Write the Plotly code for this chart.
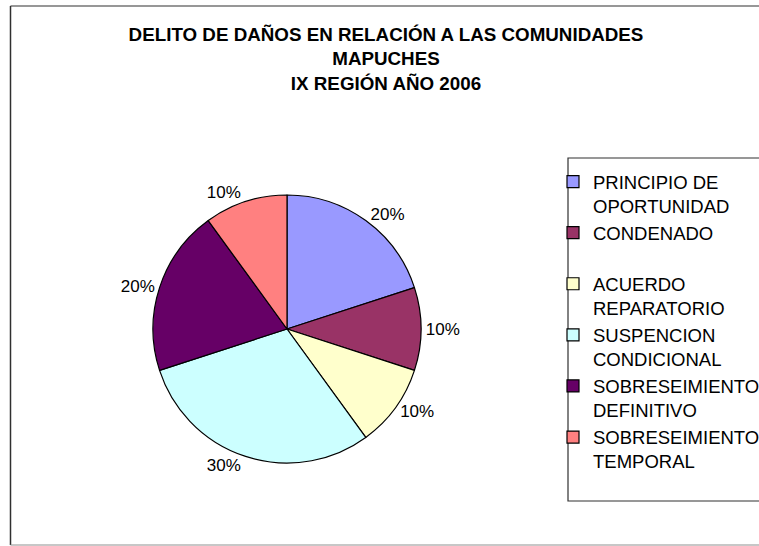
import plotly.graph_objects as go

W, H = 759, 546

title_lines = ["DELITO DE DAÑOS EN RELACIÓN A LAS COMUNIDADES", "MAPUCHES", "IX REGIÓN AÑO 2006"]
categories = [
    "PRINCIPIO DE<br>OPORTUNIDAD",
    "CONDENADO<br>\u00a0",
    "ACUERDO<br>REPARATORIO",
    "SUSPENCION<br>CONDICIONAL",
    "SOBRESEIMIENTO<br>DEFINITIVO",
    "SOBRESEIMIENTO<br>TEMPORAL",
]
values = [2, 1, 1, 3, 2, 1]
colors = ["#9999FF", "#993366", "#FFFFCC", "#CCFFFF", "#660066", "#FF8080"]

FONT = "Liberation Sans, Arial, sans-serif"

def px_x(x):
    return x / W

def px_y(y):
    return 1 - y / H

# pie geometry (pixels)
cx, cy, r = 287, 329, 134

fig = go.Figure(
    go.Pie(
        labels=categories,
        values=values,
        sort=False,
        direction="clockwise",
        rotation=0,
        marker=dict(colors=colors, line=dict(color="black", width=1.2)),
        texttemplate="%{percent:.0%}",
        textposition="outside",
        outsidetextfont=dict(family=FONT, size=17, color="black"),
        domain=dict(x=[px_x(cx - r), px_x(cx + r)], y=[px_y(cy + r), px_y(cy - r)]),
        hoverinfo="label+percent",
    )
)

shapes = [
    # outer chart frame (right side lies beyond the visible area)
    dict(type="line", xref="paper", yref="paper", x0=px_x(10.5), x1=px_x(10.5), y0=px_y(6), y1=px_y(545),
         line=dict(color="#303030", width=1.5)),
    dict(type="line", xref="paper", yref="paper", x0=px_x(10.5), x1=px_x(900), y0=px_y(6), y1=px_y(6),
         line=dict(color="#303030", width=1.2)),
    dict(type="line", xref="paper", yref="paper", x0=px_x(10.5), x1=px_x(900), y0=px_y(545), y1=px_y(545),
         line=dict(color="#909090", width=1.2)),
    # legend box (top, left, bottom edges)
    dict(type="path", xref="paper", yref="paper",
         path="M %f,%f L %f,%f L %f,%f L %f,%f" % (
             px_x(900), px_y(158), px_x(568), px_y(158), px_x(568), px_y(501), px_x(900), px_y(501)),
         line=dict(color="#303030", width=1.2)),
]

fig.update_layout(
    width=W,
    height=H,
    margin=dict(l=0, r=0, t=0, b=0, autoexpand=False),
    paper_bgcolor="white",
    plot_bgcolor="white",
    font=dict(family=FONT, color="black"),
    title=dict(
        text="<b>" + "<br>".join(title_lines) + "</b>",
        x=px_x(386),
        xanchor="center",
        y=px_y(41),
        yanchor="top",
        font=dict(family=FONT, size=18.8, color="black"),
    ),
    legend=dict(
        x=px_x(553),
        xanchor="left",
        y=px_y(163),
        yanchor="top",
        borderwidth=0,
        bgcolor="rgba(0,0,0,0)",
        font=dict(family=FONT, size=18.5, color="black"),
        valign="top",
        traceorder="normal",
    ),
    shapes=shapes,
)

fig.write_html(
    "out.html",
    config={"displayModeBar": False},
    post_script="document.body.style.margin='0';document.body.style.overflow='hidden';",
)
